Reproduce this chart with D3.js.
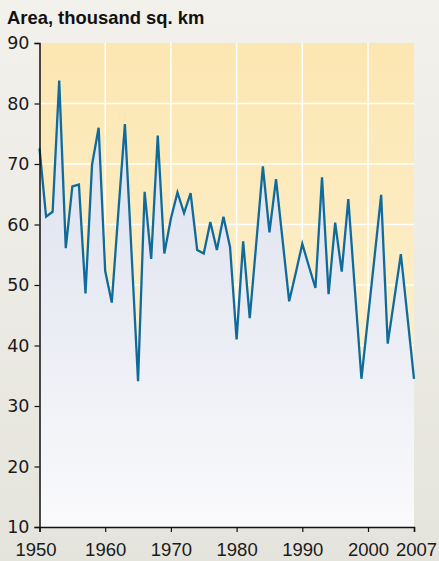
<!DOCTYPE html>
<html>
<head>
<meta charset="utf-8">
<script src="https://cdn.jsdelivr.net/npm/d3@7"></script>
<style>
  html, body { margin: 0; padding: 0; background: #efede7; }
  svg { display: block; }
  text { font-family: "Liberation Sans", Arial, sans-serif; }
</style>
</head>
<body>
<svg id="chart" width="439" height="561"></svg>
<script>
// Annual area, thousand sq. km
const years = d3.range(1950, 2008);
const areaValues = [
  72.6, 61.3, 62.1, 83.8, 56.1, 66.3, 66.6, 48.6, 69.9, 76.0,
  52.3, 47.1, 62.0, 76.6, 55.5, 34.1, 65.4, 54.3, 74.7, 55.2,
  61.0, 65.3, 61.9, 65.2, 55.8, 55.2, 60.4, 55.8, 61.3, 56.3,
  41.0, 57.2, 44.5, 57.0, 69.6, 58.7, 67.5, 57.4, 47.3, 52.0,
  56.8, 53.1, 49.5, 67.8, 48.5, 60.3, 52.2, 64.2, 49.3, 34.5,
  44.6, 54.7, 64.9, 40.3, 47.7, 55.1, 44.8, 34.5
];
const xTicks = [1950, 1960, 1970, 1980, 1990, 2000, 2007];
const yTicks = [10, 20, 30, 40, 50, 60, 70, 80, 90];
const titleText = "Area, thousand sq. km";

const data = years.map((y, i) => ({ year: y, value: areaValues[i] }));

const W = 439, H = 561;
const margin = { left: 39.5, right: 25, top: 43, bottom: 34 };
const svg = d3.select("#chart");

const x = d3.scaleLinear().domain([1950, 2007]).range([margin.left, W - margin.right]);
const y = d3.scaleLinear().domain([10, 90]).range([H - margin.bottom, margin.top]);

const defs = svg.append("defs");
function vGrad(id, y1, y2, stops) {
  const g = defs.append("linearGradient").attr("id", id)
    .attr("gradientUnits", "userSpaceOnUse")
    .attr("x1", 0).attr("x2", 0).attr("y1", y1).attr("y2", y2);
  stops.forEach(([o, c]) => g.append("stop").attr("offset", o).attr("stop-color", c));
}
vGrad("bgGrad", 0, H, [[0, "#f3f1ec"], [1, "#e5e4dc"]]);
vGrad("plotGrad", y(90), y(10), [[0, "#fce7b2"], [1, "#fdf3d8"]]);
vGrad("fillGrad", y(90), y(10), [[0, "#d9dfee"], [0.45, "#e6e9f2"], [1, "#fafafc"]]);

// page background
svg.append("rect").attr("width", W).attr("height", H).attr("fill", "url(#bgGrad)");

// plot background
svg.append("rect")
  .attr("x", x(1950)).attr("y", y(90))
  .attr("width", x(2007) - x(1950)).attr("height", y(10) - y(90))
  .attr("fill", "url(#plotGrad)");

// white grid
const grid = svg.append("g").attr("stroke", "#ffffff").attr("stroke-width", 1.5);
grid.selectAll("line.h").data(yTicks.filter(v => v > 10 && v < 90)).join("line")
  .attr("x1", x(1950)).attr("x2", x(2007))
  .attr("y1", d => y(d)).attr("y2", d => y(d));
grid.selectAll("line.v").data(xTicks.filter(v => v > 1950 && v < 2007)).join("line")
  .attr("y1", y(90)).attr("y2", y(10))
  .attr("x1", d => x(d)).attr("x2", d => x(d));

// shaded area under the series
const area = d3.area().x(d => x(d.year)).y0(y(10)).y1(d => y(d.value));
svg.append("path").datum(data).attr("d", area).attr("fill", "url(#fillGrad)");

// series line
const line = d3.line().x(d => x(d.year)).y(d => y(d.value));
svg.append("path").datum(data).attr("d", line)
  .attr("fill", "none").attr("stroke", "#0f6b9b").attr("stroke-width", 2.3)
  .attr("stroke-linejoin", "miter");

// axes
const yAxis = svg.append("g").attr("transform", `translate(${x(1950)},0)`)
  .call(d3.axisLeft(y).tickValues(yTicks).tickSize(5).tickPadding(5).tickFormat(d3.format("d")));
const xAxis = svg.append("g").attr("transform", `translate(0,${y(10)})`)
  .call(d3.axisBottom(x).tickValues(xTicks).tickSize(5).tickPadding(11).tickFormat(d3.format("d")));

[yAxis, xAxis].forEach(ax => {
  ax.select(".domain").attr("stroke", "#111").attr("stroke-width", 1.5);
  ax.selectAll(".tick line").attr("stroke", "#111").attr("stroke-width", 1.2);
  ax.selectAll(".tick text").attr("fill", "#1a1a1a");
});
yAxis.selectAll(".tick text")
  .style("font-size", "17.5px")
  .style("font-family", "'DejaVu Sans', sans-serif")
  .attr("dy", "0.34em");
xAxis.selectAll(".tick text")
  .style("font-size", "18.5px")
  .style("font-family", "'Liberation Sans', Arial, sans-serif");
xAxis.selectAll(".tick text").filter(d => d === 1950).attr("dx", "-4");
xAxis.selectAll(".tick text").filter(d => d === 2007).attr("dx", "2");

// title
svg.append("text").attr("x", 7).attr("y", 24)
  .attr("font-weight", "bold").attr("font-size", 18.4).attr("fill", "#111")
  .text(titleText);
</script>
</body>
</html>
